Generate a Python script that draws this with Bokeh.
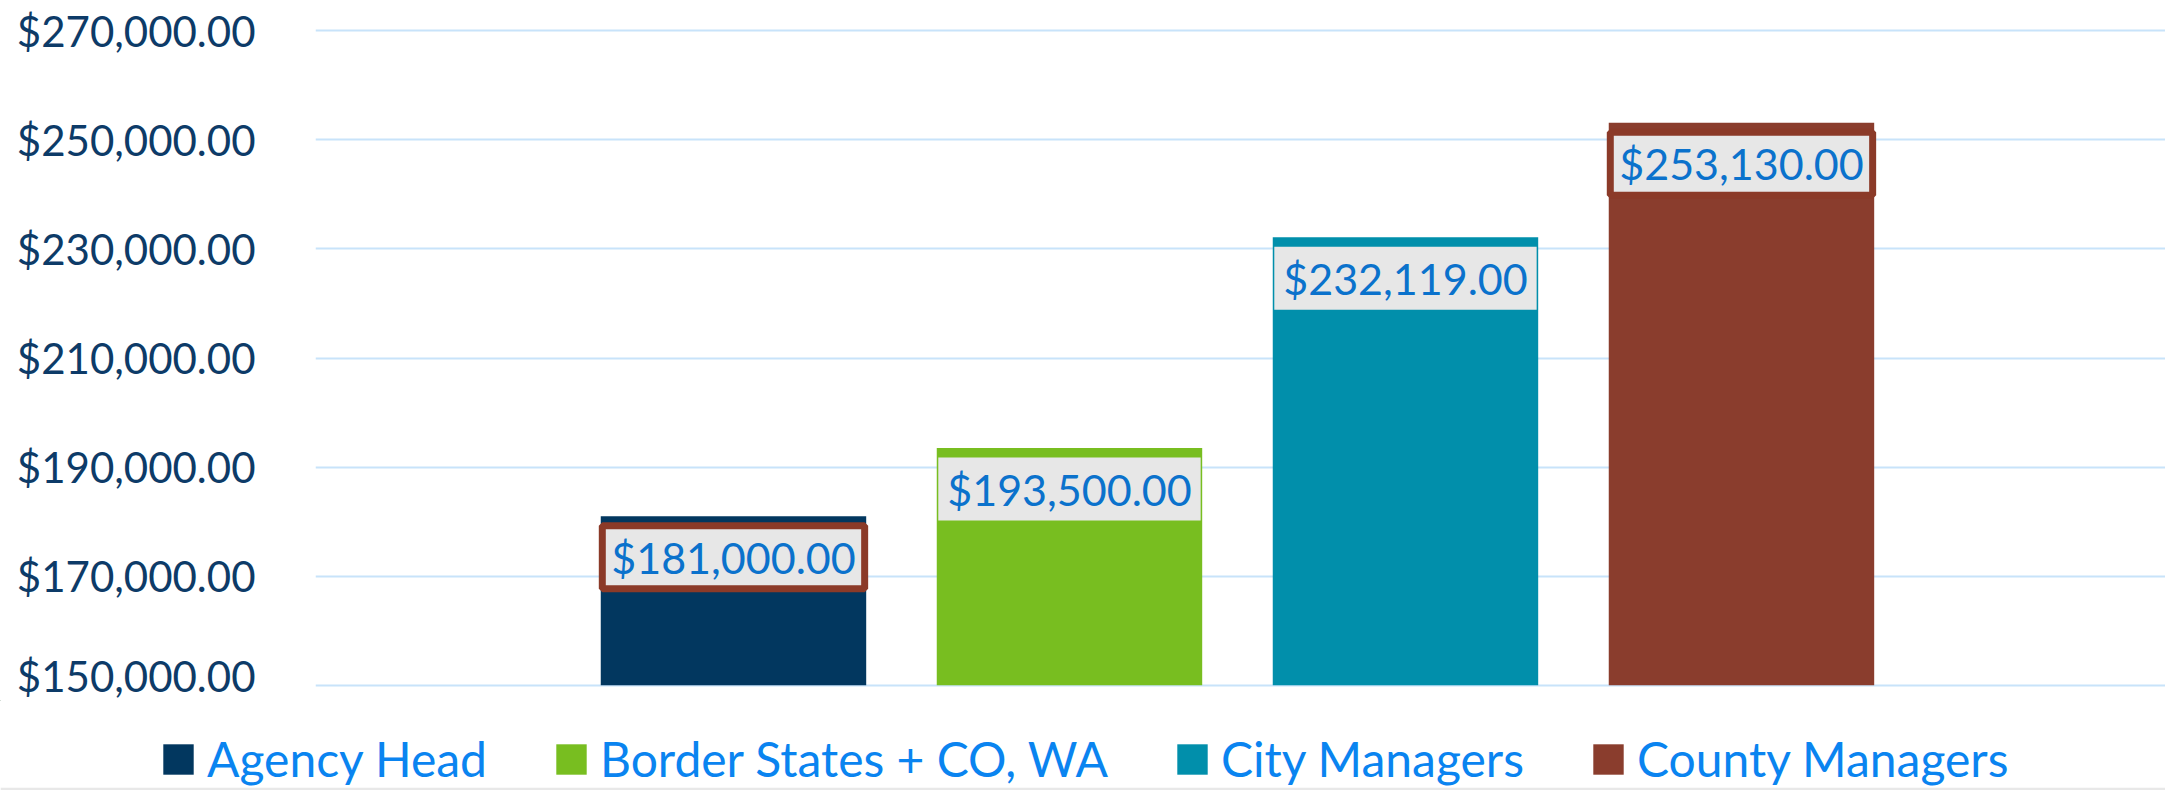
from bokeh.plotting import figure
from bokeh.models import ColumnDataSource, FixedTicker, NumeralTickFormatter, Range1d
from bokeh.core.properties import value
from bokeh.embed import file_html
from bokeh.resources import INLINE

# ---- data ----
groups = ["Agency Head", "Border States + CO, WA", "City Managers", "County Managers"]
salaries = [181000, 193500, 232119, 253130]
y_ticks = [150000, 170000, 190000, 210000, 230000, 250000, 270000]

# ---- styles ----
bar_colors = ["#02375F", "#78BE20", "#018FAB", "#8A3D2D"]
label_border_alpha = [1, 0, 0, 1]
FONT = "Lato"

positions = list(range(1, len(groups) + 1))
labels = ["${:,.2f}".format(v) for v in salaries]

src = ColumnDataSource(dict(x=positions, salary=salaries, group=groups,
                            color=bar_colors, label=labels, balpha=label_border_alpha))

pad = 400  # small headroom so the edge gridlines are not clipped
p = figure(width=2165, height=700, output_backend="svg", toolbar_location=None, tools="",
           x_range=Range1d(-0.244, 5.262),
           y_range=Range1d(y_ticks[0] - pad, y_ticks[-1] + pad),
           min_border_left=315, min_border_right=0, min_border_top=28, min_border_bottom=13)
p.outline_line_color = None
p.background_fill_color = "white"
p.border_fill_color = "white"

p.vbar(x="x", top="salary", bottom=y_ticks[0], width=0.79, source=src,
       fill_color="color", line_color=None)

p.text(x="x", y="salary", text="label", source=src, y_offset=41,
       text_align="center", text_baseline="middle",
       text_font=value(FONT), text_font_size="43px", text_color="#0B72CC",
       background_fill_color="#E7E7E7",
       border_line_color="#8B3A28", border_line_alpha="balpha", border_line_width=7,
       padding=dict(left=9, right=9, top=6, bottom=6))

p.xaxis.visible = False
p.xgrid.grid_line_color = None
p.ygrid.grid_line_color = "#C8E3FA"
p.ygrid.grid_line_width = 2
yax = p.yaxis[0]
yax.ticker = FixedTicker(ticks=y_ticks)
yax.formatter = NumeralTickFormatter(format="$0,0.00")
yax.axis_line_color = None
yax.major_tick_line_color = None
yax.minor_tick_line_color = None
yax.major_tick_out = 0
yax.major_tick_in = 0
yax.major_label_standoff = 60
yax.major_label_text_font = FONT
yax.major_label_text_font_size = "42px"
yax.major_label_text_color = "#0D3B68"

# ---- legend strip below the chart (separate root, so frames are not aligned) ----
lp = figure(width=2165, height=90, output_backend="svg", toolbar_location=None, tools="",
            x_range=Range1d(100, 101), y_range=Range1d(0, 1),
            x_axis_type=None, y_axis_type=None,
            min_border_left=0, min_border_right=0, min_border_top=0, min_border_bottom=3)
lp.outline_line_color = None
lp.grid.visible = False
lp.background_fill_color = "white"
lp.border_fill_color = "#E8E8E8"
# same bars, far outside the strip's visible range: they only feed the legend swatches
lp.vbar(x="x", top="salary", bottom=y_ticks[0], width=0.79, source=src,
        fill_color="color", line_color=None, legend_field="group")

lg = lp.legend[0]
lg.orientation = "horizontal"
lg.location = (159, 0)
lg.glyph_width = 38
lg.glyph_height = 38
lg.label_standoff = 10
lg.spacing = 65
lg.padding = 0
lg.margin = 0
lg.border_line_color = None
lg.background_fill_alpha = 0
lg.label_text_font = FONT
lg.label_text_font_size = "48px"
lg.label_text_color = "#0A84F0"

open("out.html", "w").write(file_html([p, lp], INLINE))
